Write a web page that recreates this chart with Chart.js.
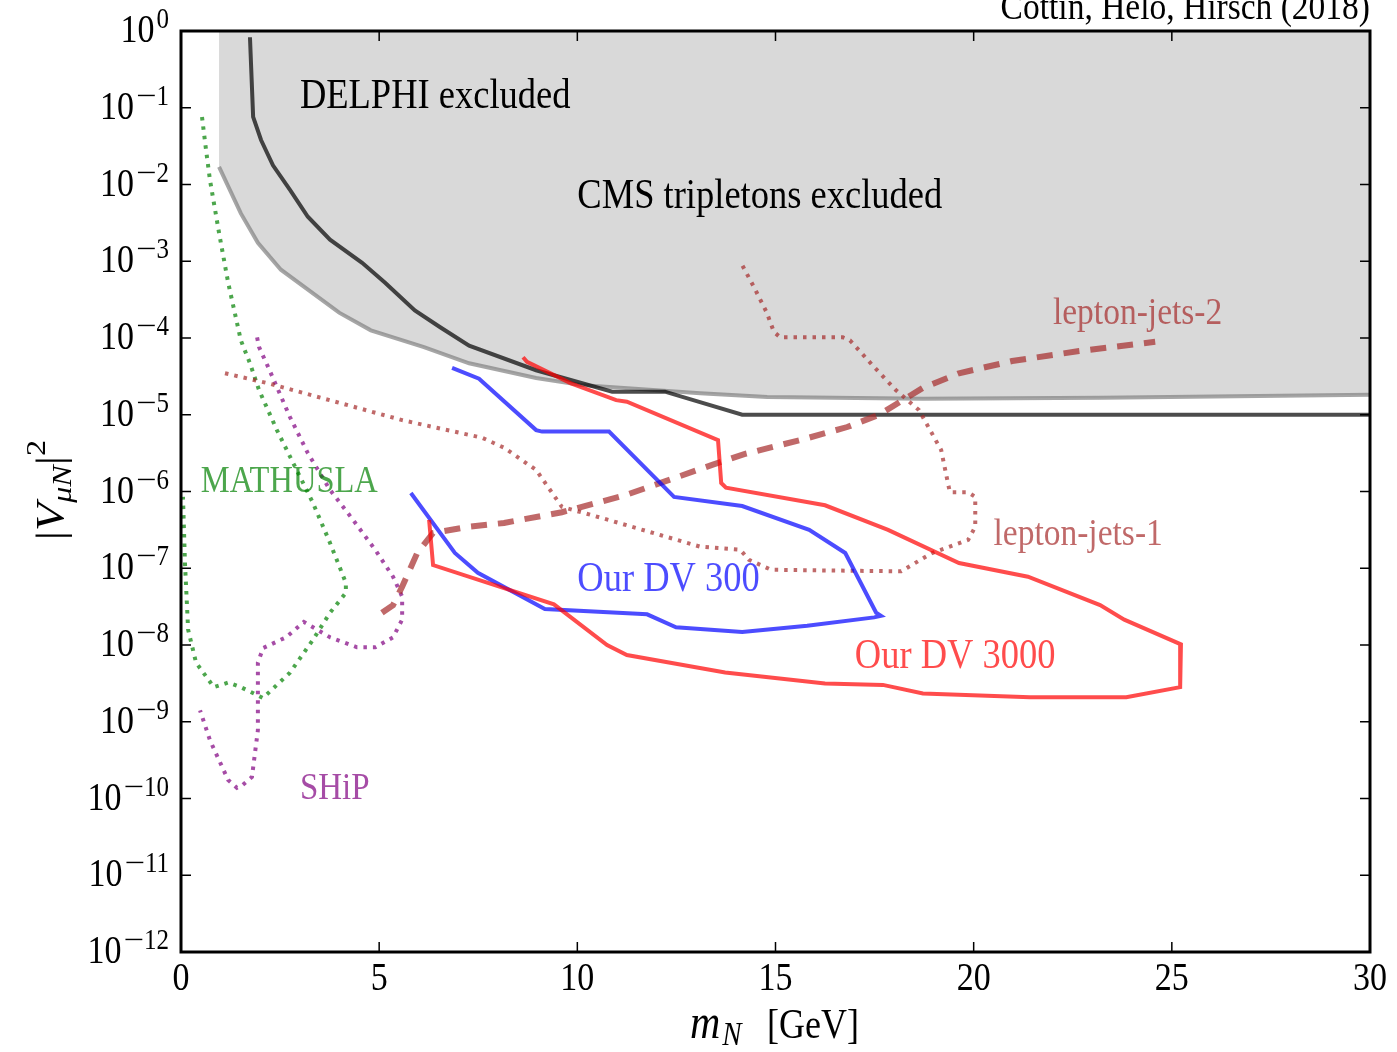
<!DOCTYPE html>
<html>
<head>
<meta charset="utf-8">
<script src="https://cdn.jsdelivr.net/npm/chart.js"></script>
<style>
  html, body { margin: 0; padding: 0; background: #fff; }
  #wrap { width: 1397px; height: 1052px; }
</style>
</head>
<body>
<div id="wrap"><canvas id="chart" width="1397" height="1052"></canvas></div>
<script>
// ---- data (x = m_N in GeV, y = |V_muN|^2) ----
const cmsX = [0.96, 1.51, 1.94, 2.52, 3.99, 4.79, 6.13, 7.27, 8.96, 10.07, 13.10, 14.79, 18.72, 23.24, 30];
const cmsY = [1.70e-2, 4.2e-3, 1.74e-3, 7.76e-4, 2.14e-4, 1.26e-4, 7.59e-5, 4.68e-5, 3.02e-5, 2.45e-5, 1.91e-5, 1.70e-5, 1.62e-5, 1.66e-5, 1.82e-5];

const delphiX = [1.74, 1.82, 2.02, 2.32, 2.75, 3.20, 3.76, 4.57, 5.15, 5.90, 6.54, 7.27, 8.96, 10.88, 12.21, 14.16, 30];
const delphiY = [0.83, 7.59e-2, 3.80e-2, 1.78e-2, 8.51e-3, 3.80e-3, 1.91e-3, 9.55e-4, 5.25e-4, 2.29e-4, 1.38e-4, 7.94e-5, 3.80e-5, 2.0e-5, 2.0e-5, 1.0e-5, 1.0e-5];

const dv300X = [6.84, 7.52, 8.96, 9.11, 10.80, 12.44, 14.16, 15.85, 16.76, 17.54, 17.66, 17.49, 15.80, 14.16, 12.49, 11.76, 9.18, 7.49, 6.91, 5.80];
const dv300Y = [4.07e-5, 2.95e-5, 6.31e-6, 6.03e-6, 6.03e-6, 8.51e-7, 6.46e-7, 3.16e-7, 1.58e-7, 2.63e-8, 2.40e-8, 2.29e-8, 1.78e-8, 1.48e-8, 1.70e-8, 2.51e-8, 2.95e-8, 8.71e-8, 1.58e-7, 9.55e-7];

const dv3000X = [8.63, 8.73, 9.84, 10.98, 11.25, 13.55, 13.63, 13.75, 16.25, 17.84, 19.63, 21.37, 23.19, 23.80, 25.23, 25.21, 23.85, 21.42, 18.72, 17.71, 16.25, 13.73, 11.25, 10.75, 9.41, 6.36, 6.26];
const dv3000Y = [5.62e-5, 4.90e-5, 2.57e-5, 1.55e-5, 1.48e-5, 4.68e-6, 1.29e-6, 1.12e-6, 6.61e-7, 3.16e-7, 1.17e-7, 7.76e-8, 3.31e-8, 2.14e-8, 1.02e-8, 2.82e-9, 2.09e-9, 2.09e-9, 2.34e-9, 3.02e-9, 3.16e-9, 4.37e-9, 7.41e-9, 1.0e-8, 3.39e-8, 1.10e-7, 4.27e-7];

const lj2X = [5.07, 5.35, 5.58, 5.96, 6.36, 7.27, 8.15, 9.61, 11.20, 13.42, 14.23, 15.70, 16.81, 17.61, 18.72, 19.63, 20.97, 22.66, 24.58];
const lj2Y = [2.63e-8, 3.31e-8, 5.75e-8, 1.58e-7, 2.88e-7, 3.47e-7, 3.89e-7, 5.37e-7, 8.91e-7, 2.24e-6, 3.09e-6, 4.79e-6, 6.92e-6, 1.0e-5, 2.24e-5, 3.47e-5, 5.01e-5, 6.76e-5, 8.91e-5];

const lj1X = [1.11, 2.20, 3.89, 5.58, 7.60, 8.15, 8.96, 9.61, 10.65, 12.11, 13.10, 14.11, 14.33, 14.89, 18.17, 18.95, 19.86, 20.04, 20.04, 19.86, 19.40, 19.35, 19.18, 18.62, 18.04, 17.49, 16.88, 16.70, 15.12, 14.96, 14.78, 14.46, 14.16];
const lj1Y = [3.47e-5, 2.57e-5, 1.48e-5, 8.51e-6, 5.01e-6, 3.72e-6, 1.91e-6, 6.31e-7, 4.47e-7, 2.69e-7, 1.91e-7, 1.74e-7, 1.29e-7, 9.55e-8, 9.12e-8, 1.58e-7, 2.34e-7, 3.47e-7, 8.51e-7, 9.77e-7, 9.77e-7, 1.29e-6, 3.47e-6, 1.15e-5, 2.09e-5, 4.17e-5, 9.33e-5, 1.02e-4, 1.02e-4, 1.20e-4, 2.14e-4, 4.57e-4, 8.91e-4];

const mathuslaX = [0.53, 0.61, 0.73, 0.96, 1.19, 1.51, 1.74, 1.97, 2.42, 2.88, 3.33, 3.76, 4.16, 4.16, 3.76, 3.33, 2.75, 2.07, 1.51, 1.19, 0.83, 0.38, 0.18, 0.10, 0.05];
const mathuslaY = [7.59e-2, 3.47e-2, 1.15e-2, 2.34e-3, 5.25e-4, 9.33e-5, 4.68e-5, 2.09e-5, 6.31e-6, 2.09e-6, 7.08e-7, 2.14e-7, 6.46e-8, 4.79e-8, 2.63e-8, 1.17e-8, 4.37e-9, 2.04e-9, 2.82e-9, 3.24e-9, 2.82e-9, 5.89e-9, 1.58e-8, 1.17e-7, 8.51e-7];

const shipX = [1.92, 1.97, 2.20, 2.42, 2.75, 3.20, 3.76, 4.34, 4.90, 5.35, 5.58, 5.58, 5.35, 4.90, 4.44, 3.76, 3.10, 2.65, 2.07, 1.94, 1.94, 1.79, 1.56, 1.41, 1.19, 0.96, 0.73, 0.48];
const shipY = [1.02e-4, 7.59e-5, 4.17e-5, 2.29e-5, 9.33e-6, 3.16e-6, 1.05e-6, 4.27e-7, 1.74e-7, 7.76e-8, 4.27e-8, 2.14e-8, 1.26e-8, 9.33e-9, 9.33e-9, 1.26e-8, 2.0e-8, 1.26e-8, 9.12e-9, 5.89e-9, 7.76e-10, 1.91e-10, 1.51e-10, 1.38e-10, 1.74e-10, 3.16e-10, 5.75e-10, 1.41e-9];

const xTicks = [0, 5, 10, 15, 20, 25, 30];
const yExponents = [0, -1, -2, -3, -4, -5, -6, -7, -8, -9, -10, -11, -12];

// labels placed in data coordinates [text, x, y, colour, size]
const labels = [
  ["DELPHI excluded", 3, 1e-1, "#000", 36.5],
  ["CMS tripletons excluded", 10, 5e-3, "#000", 36.5],
  ["lepton-jets-2", 22, 1.5e-4, "rgba(165,42,42,0.7)", 33.5],
  ["lepton-jets-1", 20.5, 2e-7, "rgba(165,42,42,0.7)", 33.5],
  ["Our DV 300", 10, 5e-8, "rgba(0,0,255,0.7)", 36.5],
  ["Our DV 3000", 17, 5e-9, "rgba(255,0,0,0.7)", 36.5],
  ["MATHUSLA", 0.5, 1e-6, "rgba(0,128,0,0.7)", 32.5],
  ["SHiP", 3, 1e-10, "rgba(128,0,128,0.7)", 33],
];

const SERIF = '"Liberation Serif", "DejaVu Serif", serif';
const SY = 1.15; // the figure's lettering is a bit taller than wide

const pts = (xs, ys) => xs.map((x, i) => ({ x, y: ys[i] }));

const line = (label, xs, ys, color, width, dash, order) => ({
  label,
  data: pts(xs, ys),
  showLine: true,
  pointRadius: 0,
  borderColor: color,
  borderWidth: width,
  borderDash: dash || [],
  fill: false,
  tension: 0,
  order: order || 1,
});

// shaded CMS region: same boundary, closed up to the top of the plot
const cmsFill = {
  label: "cms-fill",
  data: [{ x: cmsX[0], y: 1 }].concat(pts(cmsX, cmsY)),
  showLine: true,
  pointRadius: 0,
  borderWidth: 0,
  borderColor: "rgba(0,0,0,0)",
  backgroundColor: "#d9d9d9",
  fill: "end",
  order: 20,
};

const txt = (ctx, s, x, y, font, align, sx) => {
  ctx.save();
  ctx.translate(x, y);
  ctx.scale(sx || 1, SY);
  ctx.font = font;
  ctx.textAlign = align || "left";
  ctx.fillText(s, 0, 0);
  ctx.restore();
};

const widthOf = (ctx, s, font) => {
  ctx.font = font;
  return ctx.measureText(s).width;
};

const decor = {
  id: "decor",
  afterDraw(chart) {
    const { ctx, chartArea: a, scales } = chart;
    const xs = scales.x, ys = scales.y;
    ctx.save();
    ctx.textBaseline = "alphabetic";

    // inward ticks
    ctx.strokeStyle = "#000";
    ctx.lineWidth = 1.5;
    ctx.beginPath();
    xTicks.forEach((t) => {
      const px = xs.getPixelForValue(t);
      ctx.moveTo(px, a.bottom); ctx.lineTo(px, a.bottom - 10);
      ctx.moveTo(px, a.top); ctx.lineTo(px, a.top + 10);
    });
    yExponents.forEach((e) => {
      const py = ys.getPixelForValue(Math.pow(10, e));
      ctx.moveTo(a.left, py); ctx.lineTo(a.left + 10, py);
      ctx.moveTo(a.right, py); ctx.lineTo(a.right - 10, py);
    });
    ctx.stroke();

    // frame
    ctx.lineWidth = 3;
    ctx.strokeRect(a.left, a.top, a.right - a.left, a.bottom - a.top);

    ctx.fillStyle = "#000";
    const big = "34px " + SERIF, sup = "25px " + SERIF;

    // x tick labels
    xTicks.forEach((t) => txt(ctx, String(t), xs.getPixelForValue(t), a.bottom + 38, big, "center"));

    // y tick labels 10^e (wide minus, like TeX)
    const MS = 1.45;
    yExponents.forEach((e) => {
      const py = ys.getPixelForValue(Math.pow(10, e));
      const right = a.left - 12;
      const digits = String(Math.abs(e));
      let x = right - widthOf(ctx, digits, sup);
      txt(ctx, digits, x, py - 3, sup);
      if (e !== 0) {
        x -= widthOf(ctx, "\u2212", sup) * MS;
        txt(ctx, "\u2212", x, py - 3, sup, "left", MS);
      }
      x -= 2 + widthOf(ctx, "10", big);
      txt(ctx, "10", x, py + 11, big);
    });

    // annotations
    labels.forEach(([text, x, y, color, size]) => {
      ctx.fillStyle = color;
      txt(ctx, text, xs.getPixelForValue(x), ys.getPixelForValue(y), size + "px " + SERIF);
    });

    // credit
    ctx.fillStyle = "#000";
    txt(ctx, "Cottin, Helo, Hirsch (2018)", a.right, 19, "33.5px " + SERIF, "right");

    // x axis title: m_N [GeV]
    const mF = "italic 42px " + SERIF, nF = "italic 29px " + SERIF, gF = "36px " + SERIF;
    let cx = 690;
    txt(ctx, "m", cx, 1038, mF); cx += widthOf(ctx, "m", mF) + 2;
    txt(ctx, "N", cx, 1045, nF);
    txt(ctx, "[GeV]", 767, 1038, gF);

    // y axis title: |V_muN|^2, reading upwards
    ctx.save();
    ctx.translate(63, 490);
    ctx.rotate(-Math.PI / 2);
    ctx.scale(SY, 1);
    const yParts = [
      ["|", "40px " + SERIF, 0],
      ["V", "italic 40px " + SERIF, 0],
      ["\u03bcN", "italic 28px " + SERIF, 8],
      ["|", "40px " + SERIF, 0],
      ["2", "28px " + SERIF, -18],
    ];
    let yt = 0;
    yParts.forEach(([t, f]) => { yt += widthOf(ctx, t, f); });
    let ty = -yt / 2;
    yParts.forEach(([t, f, dy]) => {
      ctx.font = f;
      ctx.fillText(t, ty, dy);
      ty += ctx.measureText(t).width;
    });
    ctx.restore();

    ctx.restore();
  },
};

new Chart(document.getElementById("chart").getContext("2d"), {
  type: "scatter",
  data: {
    datasets: [
      line("Our DV 3000", dv3000X, dv3000Y, "rgba(255,0,0,0.7)", 4),
      line("Our DV 300", dv300X, dv300Y, "rgba(0,0,255,0.7)", 4),
      line("lepton-jets-2", lj2X, lj2Y, "rgba(165,42,42,0.7)", 6, [16, 11]),
      line("lepton-jets-1", lj1X, lj1Y, "rgba(165,42,42,0.7)", 4, [3.5, 6]),
      line("MATHUSLA", mathuslaX, mathuslaY, "rgba(0,128,0,0.7)", 4, [3.5, 6]),
      line("SHiP", shipX, shipY, "rgba(128,0,128,0.7)", 4, [3.5, 6]),
      line("DELPHI", delphiX, delphiY, "rgba(0,0,0,0.7)", 4, [], 5),
      line("CMS tripletons", cmsX, cmsY, "rgba(128,128,128,0.7)", 4, [], 6),
      cmsFill,
    ],
  },
  options: {
    responsive: false,
    devicePixelRatio: 1,
    animation: false,
    layout: { padding: { left: 181, top: 31, right: 27, bottom: 100 } },
    plugins: { legend: { display: false }, tooltip: { enabled: false } },
    scales: {
      x: { type: "linear", min: 0, max: 30, display: false },
      y: { type: "logarithmic", min: 1e-12, max: 1, display: false },
    },
  },
  plugins: [decor],
});
</script>
</body>
</html>
